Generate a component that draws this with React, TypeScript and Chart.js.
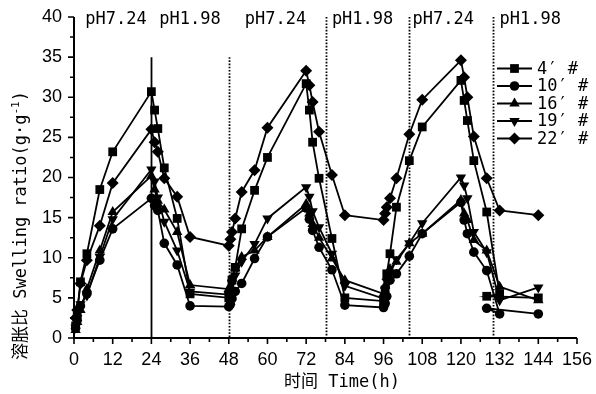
import React, { useEffect, useRef } from 'react';
import { Chart, registerables } from 'chart.js';

Chart.register(...registerables);

// time points (h); the second 128 is an extra reading plotted after 132
const TIME = [0.5, 1, 2, 4, 8, 12, 24, 25, 26, 28, 32, 36, 48, 48.5, 49, 50, 52, 56, 60, 72, 73, 74, 76, 80, 84, 96, 96.5, 97, 98, 100, 104, 108, 120, 121, 122, 124, 128, 132, 128, 144];

const SWELL_4 = [1.5, 3.0, 7.0, 10.5, 18.5, 23.2, 30.7, 28.4, 26.1, 21.2, 14.9, 5.5, 5.0, 5.8, 7.2, 8.8, 13.6, 18.4, 22.5, 31.7, 28.4, 24.4, 19.9, 12.4, 5.0, 4.6, 6.0, 8.0, 10.5, 16.3, 22.1, 26.3, 32.1, 29.6, 27.1, 22.1, 15.7, 5.5, 5.2, 5.0];
const SWELL_10 = [1.2, 2.2, 4.0, 5.5, 9.7, 13.6, 17.4, 16.5, 15.9, 11.8, 9.1, 4.0, 3.9, 4.2, 4.9, 5.8, 6.8, 9.9, 12.6, 16.2, 14.8, 13.4, 11.3, 8.5, 4.1, 3.8, 4.3, 5.2, 7.2, 8.0, 10.2, 13.0, 16.9, 14.7, 13.0, 10.7, 8.4, 3.0, 3.7, 3.0];
const SWELL_16 = [1.0, 2.0, 3.5, 6.1, 10.9, 15.7, 20.2, 18.5, 17.1, 16.0, 13.2, 6.6, 6.1, 6.5, 7.5, 8.7, 10.1, 10.9, 12.6, 16.7, 15.5, 14.2, 12.5, 9.9, 7.2, 5.5, 6.5, 7.6, 8.6, 9.5, 11.8, 13.0, 17.2, 15.5, 14.7, 12.2, 10.9, 6.4, null, 4.7];
const SWELL_19 = [1.3, 2.5, 4.2, 5.3, 10.1, 14.8, 21.0, 19.5, 17.5, 14.5, 10.9, 5.8, 5.4, 5.8, 6.8, 7.8, 9.5, 11.7, 14.9, 18.8, 17.6, 15.8, 13.8, 10.5, 6.5, 4.9, 6.0, 7.0, 8.0, 9.8, 11.8, 14.3, 20.0, 19.0, 17.4, 13.2, 10.7, 4.7, null, 6.3];
const SWELL_22 = [2.5, 3.5, 6.8, 9.7, 14.0, 19.3, 26.0, 24.4, 23.2, 19.9, 17.6, 12.6, 11.5, 12.3, 13.2, 14.9, 18.2, 20.9, 26.2, 33.3, 31.5, 29.4, 25.7, 20.3, 15.3, 14.7, 15.5, 16.3, 17.4, 19.9, 25.4, 29.7, 34.6, 32.5, 30.0, 25.1, 19.9, 15.9, null, 15.3];

const SERIES_LABELS = ['4′ #', '10′ #', '16′ #', '19′ #', '22′ #'];
const SERIES_VALUES = [SWELL_4, SWELL_10, SWELL_16, SWELL_19, SWELL_22];
const SERIES_MARKERS = ['rect', 'circle', 'triangle', 'triangle', 'rectRot'];
const SERIES_ROTATION = [0, 0, 0, 180, 0];
const SERIES_RADIUS = [6.2, 4.8, 6.0, 6.0, 6.0];

const PH_LABELS = ['pH7.24', 'pH1.98', 'pH7.24', 'pH1.98', 'pH7.24', 'pH1.98'];
const PH_LABEL_T = [13, 36, 62.5, 89.5, 114.5, 141.5];
const PHASE_BOUNDS = [24, 48, 78, 104, 130];
const BOUND_TOP = [35, 35, 40, 40, 40];
const BOUND_SOLID = [true, false, false, false, false];

const X_MIN = 0, X_MAX = 156, X_STEP = 12, X_MINOR = 6;
const Y_MIN = 0, Y_MAX = 40, Y_STEP = 5, Y_MINOR = 2.5;

const X_TITLE = '时间 Time(h)';
const Y_TITLE_MAIN = '溶胀比 Swelling ratio(g·g';
const Y_TITLE_SUP = '-1';
const Y_TITLE_END = ')';

const MONO = '"DejaVu Sans Mono", "Noto Sans CJK SC", sans-serif';

function drawMarker(ctx: CanvasRenderingContext2D, style: string, r: number, rot: number, cx: number, cy: number) {
  ctx.beginPath();
  if (style === 'circle') {
    ctx.arc(cx, cy, r, 0, Math.PI * 2);
  } else if (style === 'rect') {
    const h = r * Math.SQRT1_2;
    ctx.rect(cx - h, cy - h, 2 * h, 2 * h);
  } else if (style === 'rectRot') {
    ctx.moveTo(cx - r, cy);
    ctx.lineTo(cx, cy - r);
    ctx.lineTo(cx + r, cy);
    ctx.lineTo(cx, cy + r);
    ctx.closePath();
  } else {
    let a = (rot * Math.PI) / 180;
    for (let k = 0; k < 3; k++) {
      const px = cx + Math.sin(a) * r;
      const py = cy - Math.cos(a) * r;
      if (k === 0) ctx.moveTo(px, py); else ctx.lineTo(px, py);
      a += (2 * Math.PI) / 3;
    }
    ctx.closePath();
  }
  ctx.fill();
}

const decor = {
  id: 'decor',
  beforeDatasetsDraw(chart: any) {
    const { ctx } = chart;
    const x = chart.scales.x, y = chart.scales.y;
    ctx.save();
    ctx.strokeStyle = '#000';
    PHASE_BOUNDS.forEach((t, i) => {
      const px = Math.round(x.getPixelForValue(t)) + 0.5;
      ctx.lineWidth = 1.8;
      ctx.setLineDash(BOUND_SOLID[i] ? [] : [1.6, 1.6]);
      ctx.beginPath();
      ctx.moveTo(px, y.getPixelForValue(BOUND_TOP[i]));
      ctx.lineTo(px, y.getPixelForValue(Y_MIN));
      ctx.stroke();
    });
    ctx.restore();
  },
  afterDraw(chart: any) {
    const { ctx } = chart;
    const x = chart.scales.x, y = chart.scales.y;
    const left = x.getPixelForValue(X_MIN);
    const right = x.getPixelForValue(X_MAX);
    const bottom = y.getPixelForValue(Y_MIN);
    const top = y.getPixelForValue(Y_MAX);
    ctx.save();
    ctx.strokeStyle = '#000';
    ctx.fillStyle = '#000';
    ctx.lineWidth = 2;
    ctx.setLineDash([]);
    // axes
    ctx.beginPath();
    ctx.moveTo(left, top);
    ctx.lineTo(left, bottom);
    ctx.lineTo(right, bottom);
    ctx.stroke();
    ctx.lineWidth = 1.6;
    ctx.beginPath();
    for (let v = Y_MIN; v <= Y_MAX + 1e-9; v += Y_MINOR) {
      const py = y.getPixelForValue(v);
      const len = Math.abs(v % Y_STEP) < 1e-9 ? 6 : 4;
      ctx.moveTo(left, py);
      ctx.lineTo(left - len, py);
    }
    for (let v = X_MIN; v <= X_MAX + 1e-9; v += X_MINOR) {
      const px = x.getPixelForValue(v);
      const len = Math.abs(v % X_STEP) < 1e-9 ? 6 : 4;
      ctx.moveTo(px, bottom);
      ctx.lineTo(px, bottom + len);
    }
    ctx.stroke();

    // pH labels
    ctx.font = '17px ' + MONO;
    ctx.textAlign = 'center';
    ctx.textBaseline = 'alphabetic';
    PH_LABELS.forEach((s, i) => {
      ctx.fillText(s, x.getPixelForValue(PH_LABEL_T[i]), 24);
    });

    // x title
    ctx.font = '17px ' + MONO;
    ctx.textAlign = 'center';
    ctx.textBaseline = 'middle';
    ctx.fillText(X_TITLE, 342, 383);

    // y title
    ctx.save();
    ctx.translate(22, 360);
    ctx.rotate(-Math.PI / 2);
    ctx.textAlign = 'left';
    ctx.textBaseline = 'middle';
    ctx.font = '17px ' + MONO;
    let cx = 0;
    ctx.fillText(Y_TITLE_MAIN, cx, 0);
    cx += ctx.measureText(Y_TITLE_MAIN).width;
    ctx.font = '11px ' + MONO;
    ctx.fillText(Y_TITLE_SUP, cx, -6);
    cx += ctx.measureText(Y_TITLE_SUP).width;
    ctx.font = '17px ' + MONO;
    ctx.fillText(Y_TITLE_END, cx, 0);
    ctx.restore();

    // legend
    const ds = chart.data.datasets;
    ctx.font = '17px ' + MONO;
    ctx.textAlign = 'left';
    ctx.textBaseline = 'middle';
    ds.forEach((d: any, i: number) => {
      const ly = 68.5 + i * 17.5;
      ctx.lineWidth = 1.8;
      ctx.beginPath();
      ctx.moveTo(497, ly);
      ctx.lineTo(532, ly);
      ctx.stroke();
      drawMarker(ctx, d.pointStyle, d.pointRadius, d.pointRotation || 0, 514.5, ly);
      ctx.fillText(d.label, 537, ly + 1);
    });
    ctx.restore();
  },
};

export default function App() {
  const ref = useRef<HTMLCanvasElement>(null);
  useEffect(() => {
    document.body.style.margin = '0';
    const datasets = SERIES_LABELS.map((label, i) => ({
      label,
      data: TIME.map((t, k) => ({ x: t, y: SERIES_VALUES[i][k] })),
      borderColor: '#000',
      backgroundColor: '#000',
      borderWidth: 1.8,
      pointStyle: SERIES_MARKERS[i],
      pointRotation: SERIES_ROTATION[i],
      pointRadius: SERIES_RADIUS[i],
      pointHoverRadius: SERIES_RADIUS[i],
      pointBackgroundColor: '#000',
      pointBorderColor: '#000',
      pointBorderWidth: 0,
      spanGaps: true,
      tension: 0,
      fill: false,
      clip: false,
    }));
    const chart = new Chart(ref.current as HTMLCanvasElement, {
      type: 'line',
      data: { datasets },
      options: {
        animation: false,
        responsive: true,
        maintainAspectRatio: false,
        events: [],
        layout: { autoPadding: false, padding: { top: 17, right: 19, left: 0, bottom: 0 } },
        plugins: { legend: { display: false }, tooltip: { enabled: false }, title: { display: false } },
        scales: {
          x: {
            type: 'linear',
            min: X_MIN,
            max: X_MAX,
            grid: { display: false, drawTicks: false },
            border: { display: false },
            ticks: {
              stepSize: X_STEP,
              autoSkip: false,
              maxRotation: 0,
              padding: 11,
              color: '#000',
              font: { family: '"Liberation Sans", Arial, sans-serif', size: 18 },
            },
            afterFit: (s: any) => { s.height = 56; s.paddingLeft = 0; s.paddingRight = 0; },
          },
          y: {
            type: 'linear',
            min: Y_MIN,
            max: Y_MAX,
            grid: { display: false, drawTicks: false },
            border: { display: false },
            ticks: {
              stepSize: Y_STEP,
              padding: 12,
              color: '#000',
              font: { family: '"Liberation Sans", Arial, sans-serif', size: 18 },
            },
            afterFit: (s: any) => { s.width = 74; s.paddingTop = 0; s.paddingBottom = 0; },
          },
        },
      },
      plugins: [decor],
    } as any);
    return () => chart.destroy();
  }, []);
  return (
    <div style={{ width: 596, height: 394, position: 'relative' }}>
      <canvas ref={ref} />
    </div>
  );
}
